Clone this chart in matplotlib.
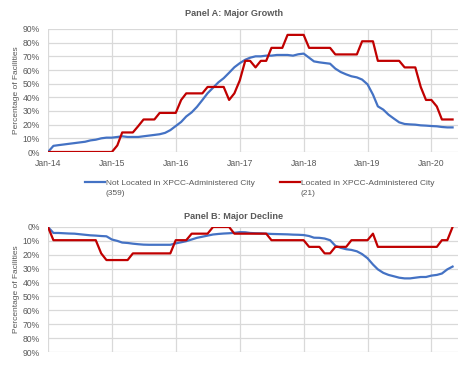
import matplotlib
matplotlib.use("Agg")
import matplotlib.pyplot as plt
import matplotlib.dates as mdates
from matplotlib.lines import Line2D
from matplotlib.ticker import MultipleLocator, PercentFormatter
import pandas as pd

# monthly, Jan 2014 .. May 2020
months = pd.date_range("2014-01-01", periods=77, freq="MS")

# Panel A: major growth (% of facilities)
growth_not_xpcc = [
    0, 4.5, 5, 5.5, 6, 6.5, 7, 7.5, 8.5, 9, 10, 10.5,
    10.5, 11, 11.5, 11, 11, 11, 11.5, 12, 12.5, 13, 14, 16,
    19, 22, 26, 29, 33, 38, 43, 47, 51, 54, 58, 62,
    65, 67.5, 69, 70, 70, 70.5, 70.5, 71, 71, 71, 70.5, 71.5,
    72, 69, 66.3, 65.6, 65.1, 64.6, 61, 58.5, 56.8, 55.4, 54.6, 53,
    49.5, 42, 33.4, 31, 27.3, 24.4, 21.7, 20.5, 20.2, 20, 19.5, 19.3,
    19, 18.8, 18.3, 18, 18,
]
growth_xpcc = [
    0, 0, 0, 0, 0, 0, 0, 0, 0, 0, 0, 0,
    0, 4.8, 14.3, 14.3, 14.3, 19.0, 23.8, 23.8, 23.8, 28.6, 28.6, 28.6,
    28.6, 38.1, 42.9, 42.9, 42.9, 42.9, 47.6, 47.6, 47.6, 47.6, 38.1, 42.9,
    52.4, 66.7, 66.7, 61.9, 66.7, 66.7, 76.2, 76.2, 76.2, 85.7, 85.7, 85.7,
    85.7, 76.2, 76.2, 76.2, 76.2, 76.2, 71.4, 71.4, 71.4, 71.4, 71.4, 81.0,
    81.0, 81.0, 66.7, 66.7, 66.7, 66.7, 66.7, 61.9, 61.9, 61.9, 47.6, 38.1,
    38.1, 33.3, 23.8, 23.8, 23.8,
]

# Panel B: major decline (% of facilities)
decline_not_xpcc = [
    0, 4.3, 4.3, 4.5, 4.7, 4.8, 5.2, 5.6, 6, 6.2, 6.5, 6.7,
    9, 10, 11.2, 11.5, 12, 12.4, 12.7, 12.8, 12.8, 12.8, 12.8, 12.8,
    11.8, 11, 10.2, 9, 7.8, 7, 6.2, 5.4, 5, 4.7, 4.5, 4.2,
    3.7, 3.8, 4.3, 4.5, 4.6, 4.8, 5, 5.1, 5.2, 5.3, 5.5, 5.6,
    5.8, 6.5, 7.7, 7.8, 8.3, 9.5, 13.5, 15, 16, 16.5, 17.5, 19.5,
    22.5, 27, 30.5, 33, 34.5, 35.5, 36.5, 37, 37, 36.5, 36, 36,
    35, 34.5, 33.5, 30.5, 28.5,
]
decline_xpcc = [
    0, 9.5, 9.5, 9.5, 9.5, 9.5, 9.5, 9.5, 9.5, 9.5, 19.0, 23.8,
    23.8, 23.8, 23.8, 23.8, 19.0, 19.0, 19.0, 19.0, 19.0, 19.0, 19.0, 19.0,
    9.5, 9.5, 9.5, 4.8, 4.8, 4.8, 4.8, 0, 0, 0, 0, 4.8,
    4.8, 4.8, 4.8, 4.8, 4.8, 4.8, 9.5, 9.5, 9.5, 9.5, 9.5, 9.5,
    9.5, 14.3, 14.3, 14.3, 19.0, 19.0, 14.3, 14.3, 14.3, 9.5, 9.5, 9.5,
    9.5, 4.8, 14.3, 14.3, 14.3, 14.3, 14.3, 14.3, 14.3, 14.3, 14.3, 14.3,
    14.3, 14.3, 9.5, 9.5, 0,
]

legend_labels = [
    "Not Located in XPCC-Administered City", "(359)",
    "Located in XPCC-Administered City", "(21)",
]

BLUE = "#4472C4"
RED = "#C00000"
GRID = "#D9D9D9"
TXT = "#595959"

plt.rcParams["font.family"] = ["Liberation Sans", "DejaVu Sans"]

fig = plt.figure(figsize=(4.68, 3.73), dpi=100)
ax_a = fig.add_axes([48 / 468, 1 - 152 / 373, 410 / 468, 123 / 373])
ax_b = fig.add_axes([48 / 468, 1 - 352 / 373, 410 / 468, 125 / 373])

ax_a.plot(months, growth_not_xpcc, color=BLUE, lw=1.6)
ax_a.plot(months, growth_xpcc, color=RED, lw=1.6)
ax_b.plot(months, decline_not_xpcc, color=BLUE, lw=1.6)
ax_b.plot(months, decline_xpcc, color=RED, lw=1.6)

for ax in (ax_a, ax_b):
    ax.set_xlim(pd.Timestamp("2014-01-01"), pd.Timestamp("2020-06-01"))
    ax.xaxis.set_major_locator(mdates.YearLocator())
    ax.xaxis.set_major_formatter(mdates.DateFormatter("%b-%y"))
    ax.yaxis.set_major_locator(MultipleLocator(10))
    ax.yaxis.set_major_formatter(PercentFormatter(decimals=0))
    ax.grid(color=GRID, lw=0.9)
    ax.set_axisbelow(True)
    for s in ax.spines.values():
        s.set_visible(False)
    ax.tick_params(length=0, labelsize=6.2, colors=TXT)
    ax.tick_params(axis="y", pad=6)
    ax.tick_params(axis="x", pad=5)
    ax.set_ylabel("Percentage of Facilities", fontsize=6, color=TXT)
    ax.yaxis.set_label_coords(-28 / 410, 0.5)

ax_a.set_ylim(0, 90)
ax_b.set_ylim(90, 0)
ax_b.tick_params(axis="x", labelbottom=False)

fig.text(0.5, 1 - 13 / 373, "Panel A: Major Growth", ha="center", va="center",
         fontsize=6.6, fontweight="bold", color=TXT)
fig.text(0.5, 1 - 216 / 373, "Panel B: Major Decline", ha="center", va="center",
         fontsize=6.6, fontweight="bold", color=TXT)

blank = Line2D([], [], color="none")
handles = [Line2D([], [], color=BLUE, lw=1.6), blank,
           Line2D([], [], color=RED, lw=1.6), blank]
fig.legend(handles, legend_labels, ncol=2, loc="upper left",
           bbox_to_anchor=(85 / 468, 1 - 179 / 373), frameon=False,
           fontsize=6, labelcolor=TXT, handlelength=2.4, handletextpad=0.1,
           columnspacing=3.0, labelspacing=0.3, borderpad=0, borderaxespad=0)

fig.savefig("out.png", dpi=100)
